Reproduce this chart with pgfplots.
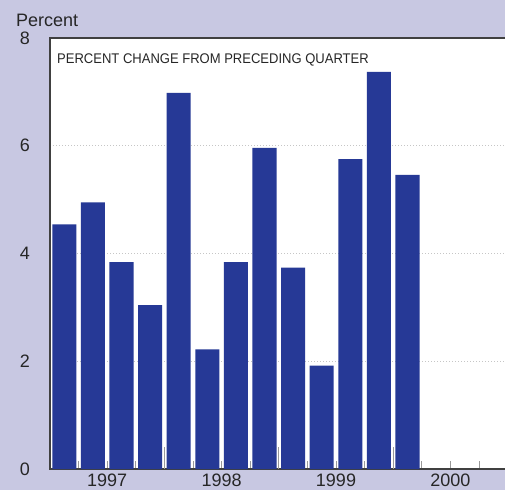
\documentclass[border=0pt]{standalone}
\usepackage{pgfplots}
\pgfplotsset{compat=1.18}
\usepackage{fontspec}
\setmainfont{Liberation Sans}
\newfontfamily\condfont[FakeStretch=0.93]{Liberation Sans}
\definecolor{bgc}{RGB}{200,200,226}
\definecolor{barc}{RGB}{38,57,150}
\definecolor{framec}{RGB}{64,64,64}
\begin{document}
\begin{tikzpicture}
\useasboundingbox (0,0) rectangle (505pt,490pt);
\fill[bgc] (0,0) rectangle (505pt,490pt);
\node[anchor=base west, font=\fontsize{18}{18}\selectfont, text=black!85, inner sep=0pt] at (16pt,463pt) {Percent};
\begin{axis}[
    at={(50pt,21pt)}, anchor=south west,
    scale only axis,
    width=457.6pt, height=431pt,
    xmin=-0.5, xmax=15.5, ymin=0, ymax=8,
    axis background/.style={fill=white},
    axis line style={draw=framec, line width=2.2pt},
    ytick={0,2,4,6,8},
    ymajorgrids,
    grid style={gray!45, line width=1.2pt, dash pattern=on 1.3pt off 1.7pt},
    major y tick style={draw=none},
    xtick pos=lower, ytick pos=left,
    xtick={1.5,5.5,9.5,13.5},
    xticklabels={1997,1998,1999,2000},
    major x tick style={draw=none},
    minor xtick={0.5,1.5,2.5,4.5,5.5,6.5,8.5,9.5,10.5,12.5,13.5,14.5},
    minor x tick style={draw=gray!80, line width=0.8pt},
    minor tick length=8pt,
    extra x ticks={3.5,7.5,11.5},
    extra x tick labels={},
    extra x tick style={major tick length=22pt, major x tick style={draw=gray!80, line width=0.8pt}},
    tick align=inside,
    /pgf/number format/assume math mode=true,
    tick label style={font=\fontsize{18}{18}\selectfont, text=black!85},
    yticklabel style={anchor=center, xshift=-25pt},
    xticklabel style={yshift=-1pt},
    clip=false,
]
\addplot[ybar, bar width=0.84, fill=barc, draw=none] coordinates {
(0,4.54) (1,4.95) (2,3.84) (3,3.04) (4,6.98) (5,2.22) (6,3.84)
(7,5.96) (8,3.74) (9,1.92) (10,5.75) (11,7.37) (12,5.46)
};
\node[anchor=base west, inner sep=0pt, font=\condfont\fontsize{14}{14}\selectfont, text=black!85] at (rel axis cs:0.0153,0.94) {PERCENT CHANGE FROM PRECEDING QUARTER};
\end{axis}
\end{tikzpicture}
\end{document}
